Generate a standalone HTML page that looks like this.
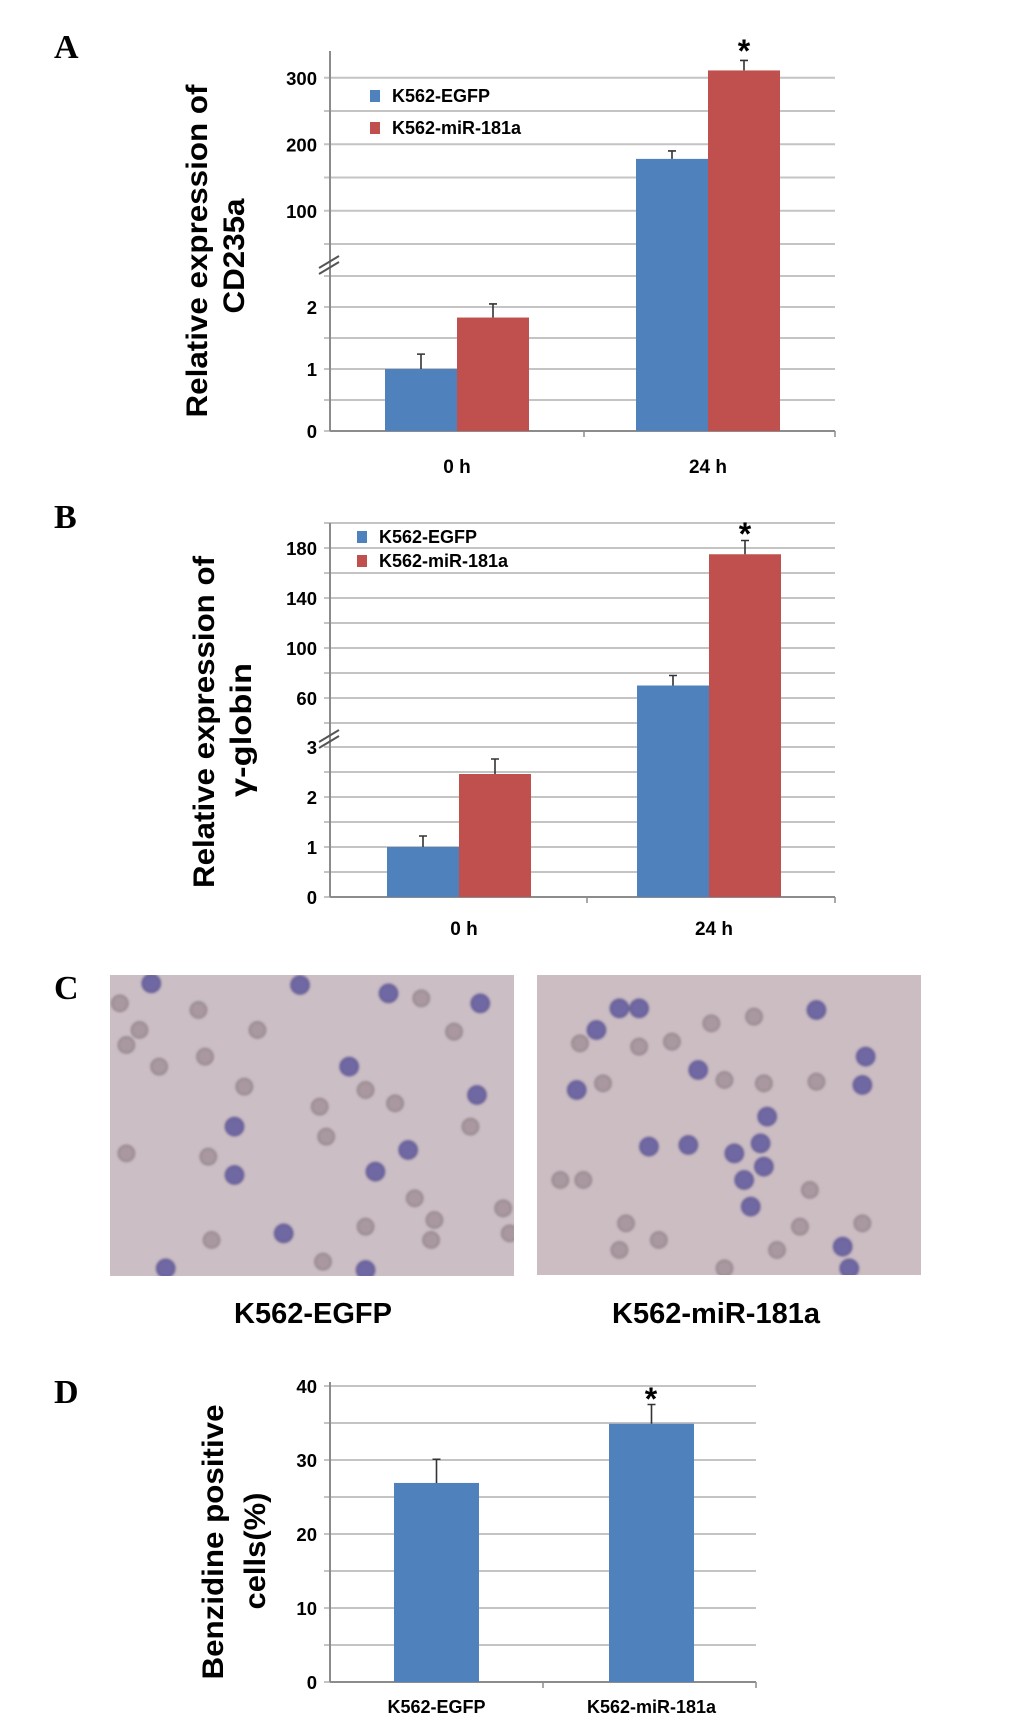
<!DOCTYPE html>
<html><head><meta charset="utf-8"><style>
html,body{margin:0;padding:0;background:#fff;}
svg{display:block;font-family:"Liberation Sans",Arial,sans-serif;}
</style></head><body>
<svg id="fig" width="1033" height="1722" viewBox="0 0 1033 1722" xmlns="http://www.w3.org/2000/svg">
<g font-family="Liberation Serif,serif" font-weight="bold" font-size="34">
<text x="54" y="58">A</text>
<text x="54" y="528">B</text>
<text x="54" y="999">C</text>
<text x="54" y="1403">D</text>
</g>
<g id="pa"></g>
<g id="pb"></g>
<g id="pc"></g>
<g id="pd"></g>
</svg>
<script>
// ---- data ----
const groupsAB = ["0 h", "24 h"];
const seriesNames = ["K562-EGFP", "K562-miR-181a"];
const aEGFP = [1.0, 178];
const aEGFPerr = [1.24, 190];
const aMiR = [1.83, 311];
const aMiRerr = [2.05, 326];
const aTicks = [0, 1, 2, 100, 200, 300];
const bEGFP = [1.0, 70];
const bEGFPerr = [1.22, 78];
const bMiR = [2.46, 175];
const bMiRerr = [2.76, 186];
const bTicks = [0, 1, 2, 3, 60, 100, 140, 180];
const dGroups = ["K562-EGFP", "K562-miR-181a"];
const dValues = [26.9, 34.9];
const dErr = [30.1, 37.5];
const dTicks = [0, 10, 20, 30, 40];

const NS = "http://www.w3.org/2000/svg";
function mk(parent, tag, attrs, text) {
  const e = document.createElementNS(NS, tag);
  for (const k in attrs) e.setAttribute(k, attrs[k]);
  if (text !== undefined) e.textContent = text;
  parent.appendChild(e);
  return e;
}
const BLUE = "#4f81bd", RED = "#c0504d", GRID = "#c4c4c4", AX = "#8c8c8c";

function drawChart(g, cfg) {
  cfg.grid.forEach(v => {
    const y = cfg.y(v);
    const l = mk(g, "line", {x1: cfg.x0 - 6, x2: cfg.x1, y1: y, y2: y, stroke: GRID, "stroke-width": 2});
    
    
  });
  const ax = mk(g, "line", {x1: cfg.x0, x2: cfg.x0, y1: cfg.top, y2: cfg.y(0), stroke: AX, "stroke-width": 2});
  
  
  const xa = mk(g, "line", {x1: cfg.x0, x2: cfg.x1, y1: cfg.y(0), y2: cfg.y(0), stroke: AX, "stroke-width": 2});
  
  
  [cfg.mid, cfg.x1].forEach(x => {
    const t = mk(g, "line", {x1: x, x2: x, y1: cfg.y(0), y2: cfg.y(0) + 6, stroke: AX, "stroke-width": 1.5});
    
    
  });
  cfg.ticks.forEach(v => {
    const t = mk(g, "text", {x: cfg.x0 - 13, y: cfg.y(v) + 7, "text-anchor": "end", "font-size": 18.5, "font-weight": "bold"}, String(v));
    
    
  });
  if (cfg.brk) {
    [0, 6].forEach(o => {
      const b = mk(g, "line", {x1: cfg.x0 - 11, y1: cfg.brk + 6 + o, x2: cfg.x0 + 9, y2: cfg.brk - 6 + o, stroke: "#555", "stroke-width": 2});
      
      
    });
  }
  cfg.bars.forEach(b => {
    const yt = cfg.y(b.v), yb = cfg.y(0);
    const r = mk(g, "rect", {x: b.x, y: yt, width: b.w, height: yb - yt, fill: b.c});
    
    
    const cx = b.x + b.w / 2, ye = cfg.y(b.e);
    const el = mk(g, "path", {d: `M${cx},${yt}V${ye}M${cx-4},${ye}H${cx+4}`, stroke: "#333", "stroke-width": 1.6, fill: "none"});
    
    
  });
  cfg.xl.forEach(l => {
    const t = mk(g, "text", {x: l.x, y: l.y, "text-anchor": "middle", "font-size": l.fs || 19, "font-weight": "bold"}, l.t);
    
    
  });
  const s = mk(g, "text", {x: cfg.star[0], y: cfg.star[1], "text-anchor": "middle", "font-size": 32, "font-weight": "bold"}, "*");
  
  
  cfg.title.forEach(tl => {
    const t = mk(g, "text", {transform: `translate(${tl.x},${tl.cy}) rotate(-90)`, "text-anchor": "middle", "font-size": 30, "font-weight": "bold", textLength: tl.len, lengthAdjust: "spacingAndGlyphs"}, tl.t);
    
    
  });
  (cfg.legend || []).forEach((l, i) => {
    const r = mk(g, "rect", {x: l.x, y: l.y - 6, width: 10, height: 12, fill: l.c});
    
    
    const t = mk(g, "text", {x: l.x + 22, y: l.y + 6, "font-size": 18, "font-weight": "bold"}, l.t);
    
    
  });
}

// Panel A
(function () {
  const y = v => v <= 2.5 ? 431 - v * 62 : 244 - (v - 50) * 0.665;
  const grid = [0, 0.5, 1, 1.5, 2, 2.5, 50, 100, 150, 200, 250, 300];
  const gx = [385, 636], w = 72;
  const bars = [];
  groupsAB.forEach((g, i) => {
    bars.push({x: gx[i], w: w, v: aEGFP[i], e: aEGFPerr[i], c: BLUE, name: 'bar-egfp-' + i});
    bars.push({x: gx[i] + w, w: w, v: aMiR[i], e: aMiRerr[i], c: RED, name: 'bar-mir-' + i});
  });
  drawChart(document.getElementById("pa"), {
    y, grid, ticks: aTicks, x0: 330, x1: 835, mid: 584, top: 51, brk: 262, bars,
    xl: groupsAB.map((t, i) => ({t, x: gx[i] + w, y: 473})),
    star: [744, 62],
    title: [{t: "Relative expression of", x: 207, cy: 251, len: 333}, {t: "CD235a", x: 244, cy: 256, len: 115}],
    legend: [{x: 370, y: 96, c: BLUE, t: seriesNames[0]}, {x: 370, y: 128, c: RED, t: seriesNames[1]}]
  });
})();

// Panel B
(function () {
  const y = v => v <= 3 ? 897 - v * 50 : 698 - (v - 60) * 1.25;
  const grid = [0, 0.5, 1, 1.5, 2, 2.5, 3, 40, 60, 80, 100, 120, 140, 160, 180, 200];
  const gx = [387, 637], w = 72;
  const bars = [];
  groupsAB.forEach((g, i) => {
    bars.push({x: gx[i], w: w, v: bEGFP[i], e: bEGFPerr[i], c: BLUE, name: 'bar-egfp-' + i});
    bars.push({x: gx[i] + w, w: w, v: bMiR[i], e: bMiRerr[i], c: RED, name: 'bar-mir-' + i});
  });
  drawChart(document.getElementById("pb"), {
    y, grid, ticks: bTicks, x0: 330, x1: 835, mid: 587, top: 523, brk: 736, bars,
    xl: groupsAB.map((t, i) => ({t, x: gx[i] + w + 5, y: 935})),
    star: [745, 545],
    title: [{t: "Relative expression of", x: 214, cy: 722, len: 332}, {t: "γ-globin", x: 251, cy: 730, len: 134}],
    legend: [{x: 357, y: 537, c: BLUE, t: seriesNames[0]}, {x: 357, y: 561, c: RED, t: seriesNames[1]}]
  });
})();

// Panel D
(function () {
  const y = v => 1682 - v * 7.4;
  const grid = [0, 5, 10, 15, 20, 25, 30, 35, 40];
  const gx = [394, 609], w = 85;
  const bars = dGroups.map((g, i) => ({x: gx[i], w: w, v: dValues[i], e: dErr[i], c: BLUE, name: 'bar-' + i}));
  drawChart(document.getElementById("pd"), {
    y, grid, ticks: dTicks, x0: 330, x1: 756, mid: 543, top: 1382, brk: null, bars,
    xl: dGroups.map((t, i) => ({t, x: gx[i] + w / 2, y: 1713, fs: 18})),
    star: [651, 1410],
    title: [{t: "Benzidine positive", x: 223, cy: 1542, len: 275}, {t: "cells(%)", x: 265, cy: 1551, len: 117}]
  });
})();

// Panel C micrographs
const cellsLeft = [[228,100,1],[455,105,1],[590,130,1],[730,160,1],[180,160,0],[300,180,0],[640,145,0],[210,240,0],[390,240,0],[690,245,0],[190,285,0],[240,350,0],[310,320,0],[530,350,1],[370,410,0],[555,420,0],[600,460,0],[725,435,1],[485,470,0],[355,530,1],[495,560,0],[715,530,0],[620,600,1],[190,610,0],[315,620,0],[355,675,1],[570,665,1],[630,745,0],[660,810,0],[555,830,0],[765,775,0],[320,870,0],[430,850,1],[655,870,0],[490,935,0],[250,955,1],[555,960,1],[775,850,0]];
const cellsRight = [[940,175,1],[970,175,1],[905,240,1],[1145,200,0],[1240,180,1],[880,280,0],[970,290,0],[1020,275,0],[1080,220,0],[1060,360,1],[1100,390,0],[1315,320,1],[1310,405,1],[875,420,1],[915,400,0],[1160,400,0],[1240,395,0],[1165,500,1],[985,590,1],[1045,585,1],[1115,610,1],[1155,580,1],[1160,650,1],[1130,690,1],[850,690,0],[885,690,0],[950,820,0],[1140,770,1],[1215,830,0],[1310,820,0],[1280,890,1],[1290,955,1],[1180,900,0],[940,900,0],[1100,955,0],[1000,870,0],[1230,720,0]];
(function () {
  const g = document.getElementById("pc");
  const defs = mk(g, "defs", {});
  const f = mk(defs, "filter", {id: "bl"});
  mk(f, "feGaussianBlur", {stdDeviation: 1.2});
  const c1 = mk(defs, "clipPath", {id: "cl1"}); mk(c1, "rect", {x: 110, y: 975, width: 404, height: 301});
  const c2 = mk(defs, "clipPath", {id: "cl2"}); mk(c2, "rect", {x: 537, y: 975, width: 384, height: 300});
  const r1 = mk(g, "rect", {x: 110, y: 975, width: 404, height: 301, fill: "#cbbec4"});
  
  
  const r2 = mk(g, "rect", {x: 537, y: 975, width: 384, height: 300, fill: "#cbbdc2"});
  
  
  [[cellsLeft, "cl1", 110, 110, 0.983], [cellsRight, "cl2", 543, 537, 0.985]].forEach(([arr, cl, o0, o1, k]) => {
    const gg = mk(g, "g", {"clip-path": `url(#${cl})`, filter: "url(#bl)"});
    arr.forEach(c => {
      const cx = o1 + (c[0] / 1.5 - o0) * k, cy = c[1] / 3 + 950;
      const e = mk(gg, "circle", {cx, cy, r: c[2] ? 9 : 8, fill: c[2] ? "#6f67a3" : "#a9989f", stroke: c[2] ? "#5d5590" : "#8f7f88", "stroke-width": 1.5});
      
      
    });
  });
  const t1 = mk(g, "text", {x: 313, y: 1323, "text-anchor": "middle", "font-size": 29, "font-weight": "bold"}, "K562-EGFP");
  
  
  const t2 = mk(g, "text", {x: 716, y: 1323, "text-anchor": "middle", "font-size": 29, "font-weight": "bold"}, "K562-miR-181a");
  
  
})();
</script>
</body></html>
